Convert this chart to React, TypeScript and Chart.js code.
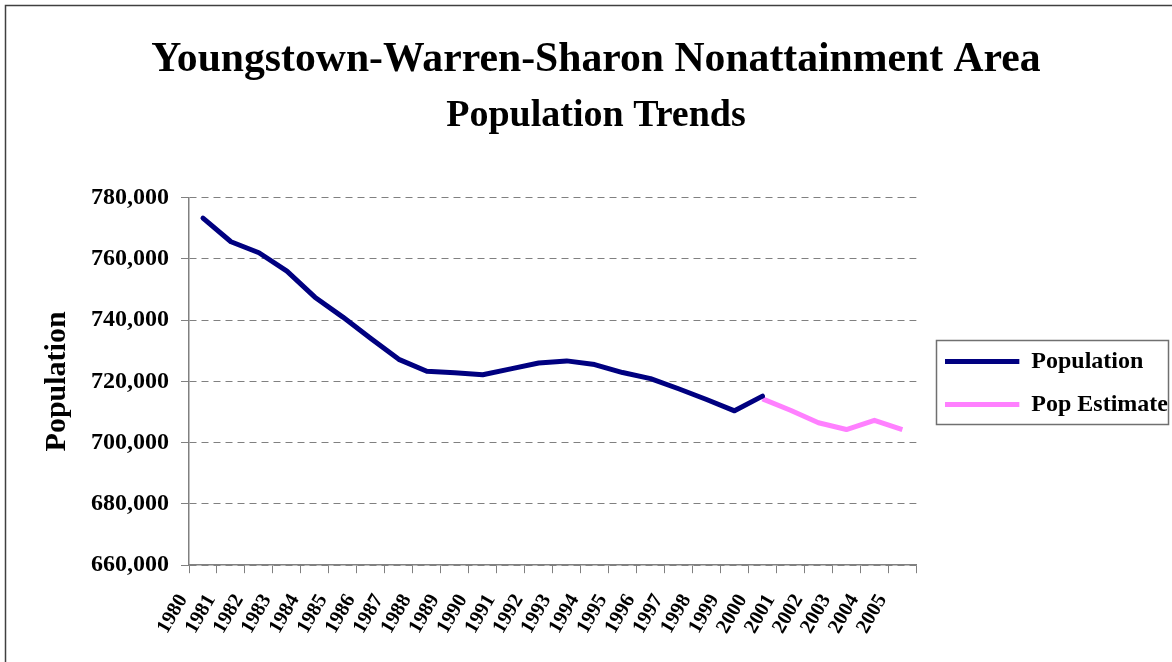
import React, { useEffect, useRef } from "react";
import { Chart, registerables } from "chart.js";

Chart.register(...registerables);

const FONT = "'Liberation Serif', 'Times New Roman', serif";

const titleLine1 = "Youngstown-Warren-Sharon Nonattainment Area";
const titleLine2 = "Population Trends";
const yAxisTitle = "Population";

const years = [
  "1980", "1981", "1982", "1983", "1984", "1985", "1986", "1987", "1988",
  "1989", "1990", "1991", "1992", "1993", "1994", "1995", "1996", "1997",
  "1998", "1999", "2000", "2001", "2002", "2003", "2004", "2005",
];

const population: (number | null)[] = [
  773300, 765600, 762000, 756000, 747500, 741000, 734000, 727200, 723300,
  722800, 722200, 724100, 726000, 726700, 725500, 722900, 720900, 717600,
  714100, 710400, 715200, null, null, null, null, null,
];

const popEstimate: (number | null)[] = [
  null, null, null, null, null, null, null, null, null, null, null, null,
  null, null, null, null, null, null, null, null,
  714300, 710600, 706500, 704300, 707300, 704300,
];

const yMin = 660000;
const yMax = 780000;
const yStep = 20000;

const LEGEND_PAD = 19;
const LEGEND_BOX = 84;
const LEGEND_GAP_LEFT = 10;

const framePlugin = {
  id: "frameAndLegendBox",
  beforeDraw(chart: any) {
    const ctx = chart.ctx;
    ctx.save();
    ctx.fillStyle = "#ffffff";
    ctx.fillRect(0, 0, chart.width, chart.height);
    ctx.strokeStyle = "#404040";
    ctx.lineWidth = 1.5;
    ctx.beginPath();
    ctx.moveTo(5.5, chart.height);
    ctx.lineTo(5.5, 5.5);
    ctx.lineTo(chart.width, 5.5);
    ctx.stroke();
    ctx.restore();

    // legend sample lines: leave a small blank lead-in inside the legend box
    const lg = chart.legend;
    if (lg && lg.legendItems) {
      const x0 = lg.left + LEGEND_PAD;
      const f = LEGEND_GAP_LEFT / LEGEND_BOX;
      lg.legendItems.forEach((item: any, i: number) => {
        const color = chart.data.datasets[i].borderColor;
        const g = ctx.createLinearGradient(x0, 0, x0 + LEGEND_BOX, 0);
        g.addColorStop(0, "rgba(255,255,255,0)");
        g.addColorStop(f, "rgba(255,255,255,0)");
        g.addColorStop(f, color);
        g.addColorStop(1, color);
        item.fillStyle = g;
      });
    }
  },
  afterDraw(chart: any) {
    const lg = chart.legend;
    if (!lg || !lg.legendHitBoxes || lg.legendHitBoxes.length === 0) return;
    const hb = lg.legendHitBoxes;
    const first = hb[0];
    const last = hb[hb.length - 1];
    const ctx = chart.ctx;
    const x0 = lg.left + LEGEND_PAD + 1;
    const y0 = first.top - 10;
    const x1 = chart.width - 4;
    const y1 = last.top + last.height + 7;
    ctx.save();
    ctx.strokeStyle = "#707070";
    ctx.lineWidth = 1.5;
    ctx.strokeRect(Math.round(x0) + 0.5, Math.round(y0) + 0.5, Math.round(x1 - x0), Math.round(y1 - y0));
    ctx.restore();
  },
};

export default function App() {
  const canvasRef = useRef<HTMLCanvasElement | null>(null);

  useEffect(() => {
    const canvas = canvasRef.current;
    if (!canvas) return;
    const chart = new Chart(canvas, {
      type: "line",
      data: {
        labels: years,
        datasets: [
          {
            label: "Population",
            data: population,
            borderColor: "#000080",
            backgroundColor: "#000080",
            borderWidth: 5,
            pointRadius: 0,
            pointHoverRadius: 0,
            tension: 0,
            borderCapStyle: "round",
            borderJoinStyle: "round",
            spanGaps: false,
          },
          {
            label: "Pop Estimate",
            data: popEstimate,
            borderColor: "#FF80FF",
            backgroundColor: "#FF80FF",
            borderWidth: 5,
            pointRadius: 0,
            pointHoverRadius: 0,
            tension: 0,
            borderJoinStyle: "round",
            spanGaps: false,
          },
        ],
      },
      options: {
        responsive: false,
        animation: false,
        devicePixelRatio: 1,
        layout: { padding: { left: 14, right: -6, top: 0, bottom: 7 } },
        plugins: {
          tooltip: { enabled: false },
          title: {
            display: true,
            text: titleLine1,
            color: "#000",
            font: { family: FONT, size: 41.7, weight: "bold", lineHeight: 1.2 },
            padding: { top: 35, bottom: 0 },
          },
          subtitle: {
            display: true,
            text: titleLine2,
            color: "#000",
            font: { family: FONT, size: 38, weight: "bold", lineHeight: 1.2 },
            padding: { top: 8, bottom: 59 },
          },
          legend: {
            display: true,
            position: "right",
            align: "center",
            title: {
              display: true,
              text: " ",
              font: { family: FONT, size: 10, lineHeight: 1 },
              padding: { top: 101, bottom: 0 },
            },
            labels: {
              boxWidth: LEGEND_BOX,
              boxHeight: 5,
              padding: LEGEND_PAD,
              color: "#000",
              font: { family: FONT, size: 24, weight: "bold" },
              generateLabels: (ch: any) =>
                ch.data.datasets.map((ds: any, i: number) => ({
                  text: ds.label,
                  fillStyle: ds.borderColor,
                  strokeStyle: ds.borderColor,
                  lineWidth: 0,
                  hidden: false,
                  datasetIndex: i,
                  fontColor: "#000",
                })),
            },
          },
        },
        scales: {
          x: {
            type: "category",
            offset: true,
            grid: {
              display: true,
              drawOnChartArea: false,
              drawTicks: true,
              offset: true,
              tickLength: 8,
              color: "#808080",
            },
            border: { display: true, color: "#808080", width: 1.5 },
            ticks: {
              autoSkip: false,
              maxRotation: 60,
              minRotation: 60,
              padding: 17,
              labelOffset: -20,
              color: "#000",
              font: { family: FONT, size: 20.5, weight: "bold" },
            },
          },
          y: {
            min: yMin,
            max: yMax,
            grid: {
              color: "#808080",
              lineWidth: 1,
              drawTicks: true,
              tickLength: 8,
              tickBorderDash: [],
            },
            border: { display: true, color: "#808080", width: 1.5, dash: [7, 5] },
            ticks: {
              stepSize: yStep,
              padding: 12,
              color: "#000",
              font: { family: FONT, size: 24, weight: "bold" },
              callback: (v: any) => Number(v).toLocaleString("en-US"),
            },
            title: {
              display: true,
              text: yAxisTitle,
              color: "#000",
              font: { family: FONT, size: 30, weight: "bold", lineHeight: 1.2 },
              padding: { top: 25, bottom: 4 },
            },
          },
        },
      },
      plugins: [framePlugin],
    } as any);
    return () => chart.destroy();
  }, []);

  return (
    <div style={{ position: "absolute", left: 0, top: 0, width: 1172, height: 662, background: "#fff" }}>
      <canvas ref={canvasRef} width={1172} height={662} style={{ display: "block" }} />
    </div>
  );
}
